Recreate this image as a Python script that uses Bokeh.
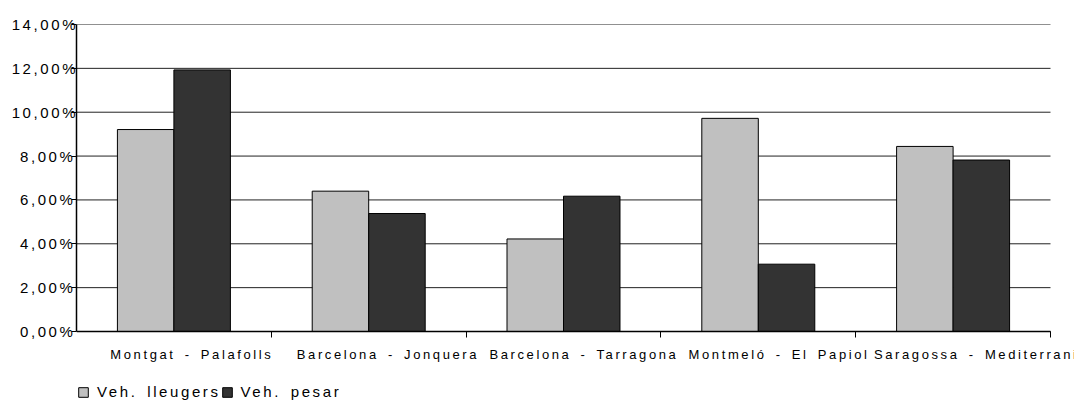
from bokeh.plotting import figure
from bokeh.models import ColumnDataSource, Range1d, FixedTicker, Legend, LegendItem, InlineStyleSheet
from bokeh.transform import dodge
from bokeh.embed import file_html
from bokeh.resources import INLINE

categories = ["Montgat - Palafolls", "Barcelona - Jonquera", "Barcelona - Tarragona",
              "Montmeló - El Papiol", "Saragossa - Mediterrani"]
lleugers = [9.21, 6.40, 4.22, 9.72, 8.44]
pesar = [11.93, 5.38, 6.17, 3.07, 7.82]
series_names = ["Veh. lleugers", "Veh. pesar"]
y_ticks = [0, 2, 4, 6, 8, 10, 12, 14]
y_tick_labels = ["0,00%", "2,00%", "4,00%", "6,00%", "8,00%", "10,00%", "12,00%", "14,00%"]

FONT = "Liberation Sans"
n = len(categories)
centers = [i + 0.5 for i in range(n)]
label_pos = [c - 0.05 for c in centers]   # visual nudge of the category labels
source = ColumnDataSource(data=dict(center=centers, cat=categories, lleugers=lleugers, pesar=pesar))

# frame: from the 14% line to the window bottom, and from the y axis to the window's right edge;
# value 0 sits 69px above the bottom, the last category boundary 24px left of the right edge
W, H = 1074, 402
FRAME_LEFT, FRAME_TOP, FRAME_BOTTOM, ZERO_PX, END_PX = 76, 24, 400, 331, 1050
ymax = y_ticks[-1]
ymin = -ymax * (FRAME_BOTTOM - ZERO_PX) / (ZERO_PX - FRAME_TOP)
xmax = n * (W - FRAME_LEFT) / (END_PX - FRAME_LEFT)

p = figure(width=W, height=H, output_backend="svg", toolbar_location=None,
           x_range=Range1d(0, xmax), y_range=Range1d(ymin, ymax),
           min_border_left=FRAME_LEFT, min_border_right=0, min_border_top=FRAME_TOP,
           min_border_bottom=H - FRAME_BOTTOM)
p.stylesheets = [InlineStyleSheet(css=":host { letter-spacing: 2.6px; word-spacing: 3px; }")]
p.outline_line_color = None
p.background_fill_color = "white"

# horizontal grid lines across the category area only
p.segment(x0=[0] * len(y_ticks), x1=[n] * len(y_ticks), y0=y_ticks, y1=y_ticks,
          line_color="#222222", line_width=1)

bw = 0.29
r1 = p.vbar(x=dodge("center", -bw / 2, range=p.x_range), top="lleugers", width=bw, source=source,
            fill_color="#C0C0C0", line_color="black", line_width=1)
r2 = p.vbar(x=dodge("center", bw / 2, range=p.x_range), top="pesar", width=bw, source=source,
            fill_color="#333333", line_color="black", line_width=1)

# y axis
p.yaxis.ticker = FixedTicker(ticks=y_ticks)
p.yaxis.bounds = (0, ymax)
p.yaxis.major_label_overrides = {t: l for t, l in zip(y_ticks, y_tick_labels)}
p.yaxis.minor_tick_line_color = None
p.yaxis.major_tick_out = 5
p.yaxis.major_tick_in = 0
p.yaxis.major_label_standoff = 9
p.yaxis.axis_line_width = 1.5
p.yaxis.axis_line_color = "black"
p.yaxis.major_tick_line_color = "black"
p.yaxis.major_label_text_font = FONT
p.yaxis.major_label_text_font_size = "15px"
p.yaxis.major_label_text_color = "black"

# x axis drawn at value 0: labels at categories, ticks at boundaries
p.xaxis.fixed_location = 0
p.xaxis.bounds = (0, n)
p.xaxis.ticker = FixedTicker(ticks=label_pos, minor_ticks=list(range(1, n + 1)))
p.xaxis.major_label_overrides = {c: name for c, name in zip(label_pos, categories)}
p.xaxis.major_tick_out = 0
p.xaxis.major_tick_in = 0
p.xaxis.minor_tick_out = 6
p.xaxis.minor_tick_in = 0
p.xaxis.minor_tick_line_color = "black"
p.xaxis.axis_line_width = 1.5
p.xaxis.axis_line_color = "black"
p.xaxis.major_label_standoff = 9
p.xaxis.major_label_text_font = FONT
p.xaxis.major_label_text_font_size = "13px"
p.xaxis.major_label_text_color = "black"

p.xgrid.grid_line_color = None
p.ygrid.grid_line_color = None

legend = Legend(items=[LegendItem(label=series_names[0], renderers=[r1]),
                       LegendItem(label=series_names[1], renderers=[r2])],
                orientation="horizontal", location=(1, 0),
                glyph_width=12, glyph_height=12, label_standoff=8, spacing=-14,
                padding=0, margin=0, border_line_color=None, background_fill_alpha=0,
                label_text_font=FONT, label_text_font_size="15px", label_text_color="black")
p.add_layout(legend, "center")

open("out.html", "w").write(file_html(p, INLINE))
